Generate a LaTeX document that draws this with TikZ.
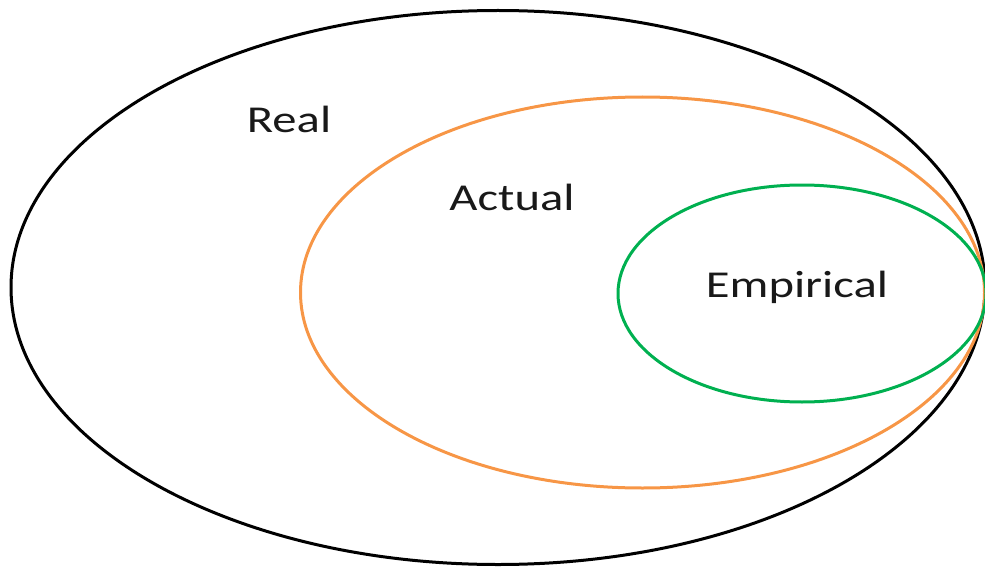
\documentclass[tikz,border=0pt]{standalone}
\usepackage{fontspec}
\setmainfont{Carlito}
\usepackage{graphicx}
\definecolor{ringorange}{RGB}{247,150,70}
\definecolor{ringgreen}{RGB}{0,176,80}
\tikzset{
  ring/.style={line width=3pt},
  lbl/.style={font=\fontsize{38}{40}\selectfont, anchor=base, inner sep=0pt, text=black!90}
}
\begin{document}
\begin{tikzpicture}[x=1pt,y=-1pt]
\useasboundingbox (0,0) rectangle (985,567);
\clip (0,0) rectangle (985,567);
\draw[ring,black] (498,287.5) ellipse [x radius=487, y radius=277] node (real) {};
\draw[ring,ringorange] (642.5,292.5) ellipse [x radius=342, y radius=195.5] node (actual) {};
\draw[ring,ringgreen] (802,293.5) ellipse [x radius=184, y radius=108.5] node (emp) {};
\node[lbl] (treal) at (289,133) {\scalebox{1.28}[1]{Real}};
\node[lbl] (tactual) at (512,210) {\scalebox{1.28}[1]{Actual}};
\node[lbl] (temp) at (797,297) {\scalebox{1.28}[1]{Empirical}};
\end{tikzpicture}
\end{document}
